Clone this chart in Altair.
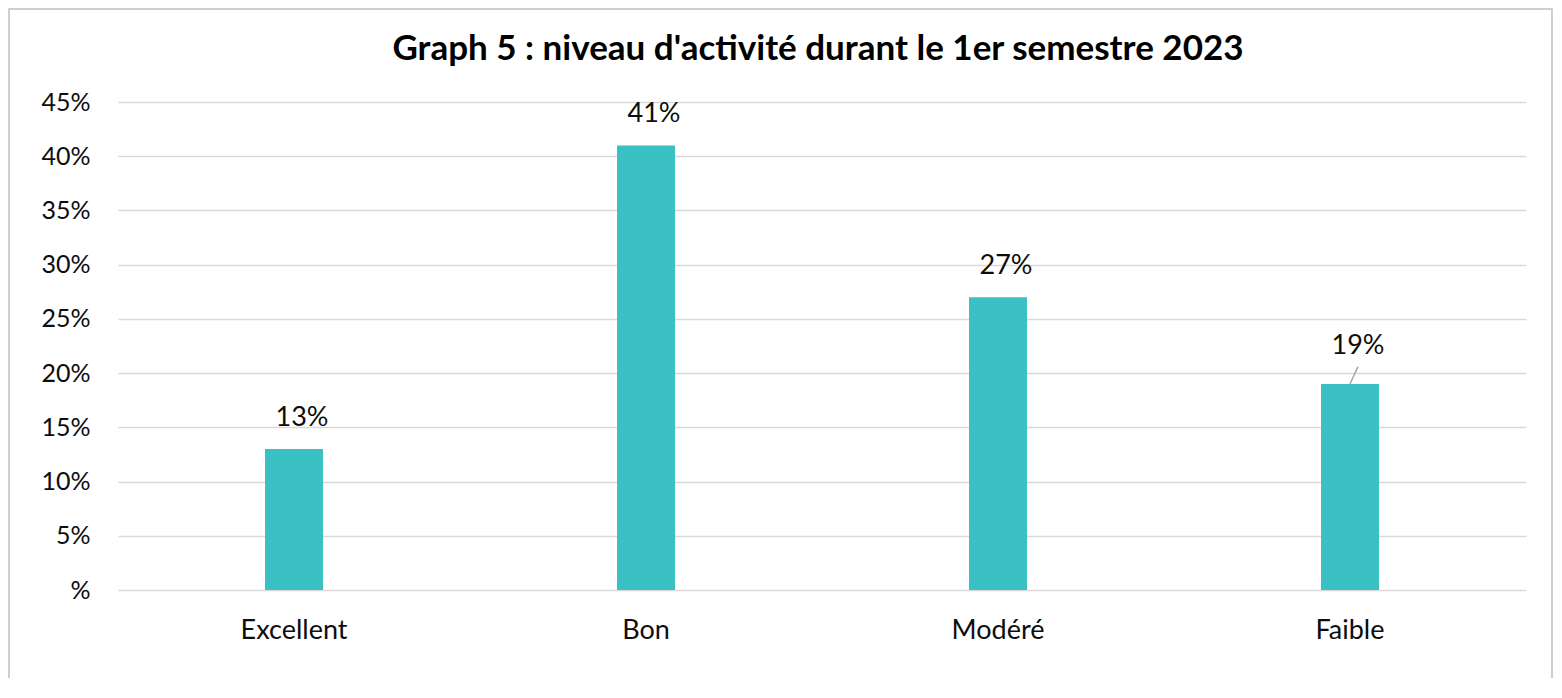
import altair as alt
import pandas as pd

categories = ["Excellent", "Bon", "Modéré", "Faible"]
values = [13, 41, 27, 19]
labels = ["13%", "41%", "27%", "19%"]

df = pd.DataFrame({"cat": categories, "value": values, "label": labels})

FONT = "Lato"
TXT = "#0d0d0d"
x = alt.X("cat:N", sort=categories, title=None,
          scale=alt.Scale(paddingInner=0, paddingOuter=0),
          axis=alt.Axis(labelAngle=0, labelFontSize=27, labelPadding=27, tickSize=0,
                        domain=False, labelColor=TXT, labelFont=FONT, grid=False))
y = alt.Y("value:Q", title=None,
          scale=alt.Scale(domain=[0, 45], nice=False),
          axis=alt.Axis(values=[0, 5, 10, 15, 20, 25, 30, 35, 40, 45],
                        labelExpr="datum.value == 0 ? '%' : datum.value + '%'",
                        labelFontSize=25, labelPadding=28, tickSize=0, domain=False,
                        gridColor="#D9D9D9", gridWidth=1.5, labelColor=TXT, labelFont=FONT))

base = alt.Chart(df)

frame = base.mark_rect(fill=None, stroke="#BFBFBF", strokeWidth=1.5).encode(
    x=alt.value(-109), x2=alt.value(1434), y=alt.value(-93), y2=alt.value(620)
).transform_filter("datum.cat == 'Excellent'")

bars = base.mark_bar(width=58, color="#3BC0C3").encode(x=x, y=y)

text_main = base.transform_filter("datum.cat != 'Faible'").mark_text(
    fontSize=27, font=FONT, color=TXT, dy=-31, dx=8, baseline="middle"
).encode(x=alt.X("cat:N", sort=categories), y="value:Q", text="label:N")

text_faible = base.transform_filter("datum.cat == 'Faible'").mark_text(
    fontSize=27, font=FONT, color=TXT, dy=-38, dx=8, baseline="middle"
).encode(x=alt.X("cat:N", sort=categories), y="value:Q", text="label:N")

leader = base.transform_filter("datum.cat == 'Faible'").transform_calculate(
    top="datum.value + 1.6"
).mark_rule(color="#A6A6A6", strokeWidth=1.5, x2Offset=8).encode(
    x=alt.X("cat:N", sort=categories), x2=alt.X2("cat:N"), y="value:Q", y2="top:Q"
)

chart = alt.layer(frame, bars, leader, text_main, text_faible).properties(
    width=1408, height=488,
    background="white",
    title=alt.TitleParams("Graph 5 : niveau d'activité durant le 1er semestre 2023",
                          fontSize=35, font=FONT, fontWeight="bold", color="#000000",
                          anchor="middle", offset=-59, dx=-4, frame="group"),
    autosize=alt.AutoSizeParams(type="none"),
    padding={"left": 110, "top": 94, "right": 28, "bottom": 88},
).configure_view(stroke=None)

chart.save("out.html", embed_options={"renderer": "svg", "actions": False})
